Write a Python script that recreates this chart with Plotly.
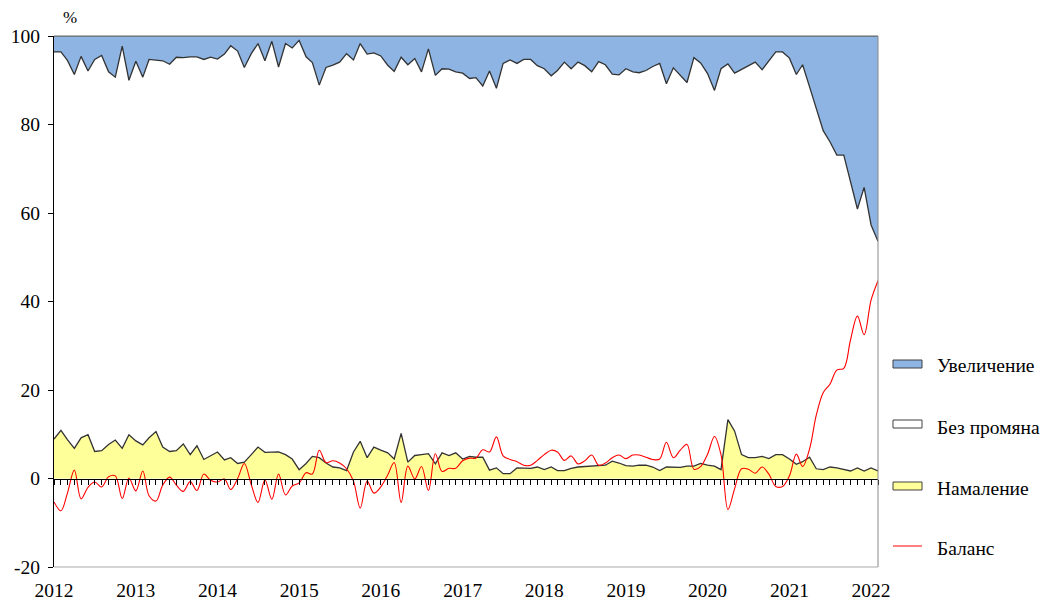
import pandas as pd
import plotly.graph_objects as go

# Monthly survey shares, Jan 2012 - Feb 2022 (122 months), in %
months = pd.date_range("2012-01-01", "2022-02-01", freq="MS").strftime("%Y-%m-%d").tolist()

decrease = [8.9, 10.9, 8.8, 6.8, 9.2, 9.9, 6.1, 6.3, 7.7, 8.7, 6.8, 9.9,
            8.5, 7.6, 9.2, 10.6, 7.1, 6.1, 6.3, 7.8, 5.4, 7.4, 4.3, 5.2,
            6.0, 4.2, 4.7, 3.4, 3.7, 5.4, 7.1, 5.9, 5.9, 6.0, 5.4, 4.4,
            2.0, 3.4, 5.0, 4.7, 3.5, 2.6, 2.4, 1.8, 6.0, 8.4, 4.7, 7.1,
            6.4, 5.8, 4.4, 10.2, 3.7, 5.2, 5.4, 5.6, 3.3, 5.8, 5.2, 5.8,
            4.4, 5.0, 4.8, 4.8, 1.9, 2.4, 1.1, 1.1, 2.4, 2.3, 2.3, 2.6,
            2.0, 2.6, 1.8, 1.8, 2.3, 2.6, 2.7, 2.8, 2.8, 3.0, 3.9, 3.5,
            2.9, 2.8, 3.0, 3.0, 2.6, 1.8, 2.6, 2.5, 2.5, 2.8, 2.8, 3.4,
            3.0, 2.8, 2.0, 13.3, 10.7, 5.4, 4.7, 4.7, 5.0, 4.5, 5.4, 5.4,
            4.4, 3.2, 3.8, 4.8, 2.2, 2.0, 2.6, 2.4, 2.0, 1.7, 2.4, 1.7,
            2.4, 1.7]

unchanged = [87.5, 85.5, 85.7, 84.5, 86.2, 82.2, 88.6, 89.3, 84.2, 82.0, 90.9, 80.1,
             85.8, 83.1, 85.5, 83.9, 87.3, 87.5, 88.9, 87.3, 89.9, 87.9, 90.4, 90.0,
             88.8, 91.7, 93.1, 93.2, 89.2, 90.6, 91.2, 88.5, 92.9, 87.0, 92.9, 92.9,
             97.0, 91.9, 89.0, 84.2, 89.4, 90.8, 91.7, 94.2, 88.6, 89.9, 91.2, 89.1,
             89.1, 87.6, 87.6, 85.0, 89.8, 89.7, 86.5, 91.5, 87.8, 86.8, 87.3, 86.1,
             87.2, 85.4, 85.8, 83.9, 90.2, 85.8, 92.7, 93.5, 91.4, 92.4, 92.4, 90.7,
             90.6, 88.4, 90.4, 92.3, 90.3, 91.5, 90.6, 89.1, 91.4, 90.5, 87.5, 87.7,
             89.7, 89.1, 88.7, 89.2, 90.5, 92.0, 86.6, 90.3, 88.6, 86.7, 92.3, 90.5,
             88.5, 84.9, 90.6, 80.4, 80.9, 87.0, 88.5, 89.4, 87.4, 90.0, 91.0, 91.0,
             90.6, 88.1, 89.7, 83.7, 81.3, 76.6, 73.5, 70.7, 71.1, 65.3, 58.5, 64.1,
             54.9, 51.9]

increase = [3.6, 3.6, 5.5, 8.7, 4.6, 7.9, 5.3, 4.4, 8.1, 9.3, 2.3, 10.0,
            5.7, 9.3, 5.3, 5.5, 5.6, 6.4, 4.8, 4.9, 4.7, 4.7, 5.3, 4.8,
            5.2, 4.1, 2.2, 3.4, 7.1, 4.0, 1.7, 5.6, 1.2, 7.0, 1.7, 2.7,
            1.0, 4.7, 6.0, 11.1, 7.1, 6.6, 5.9, 4.0, 5.4, 1.7, 4.1, 3.8,
            4.5, 6.6, 8.0, 4.8, 6.5, 5.1, 8.1, 2.9, 8.9, 7.4, 7.5, 8.1,
            8.4, 9.6, 9.4, 11.3, 7.9, 11.8, 6.2, 5.4, 6.2, 5.3, 5.3, 6.7,
            7.4, 9.0, 7.8, 5.9, 7.4, 5.9, 6.7, 8.1, 5.8, 6.5, 8.6, 8.8,
            7.4, 8.1, 8.3, 7.8, 6.9, 6.2, 10.8, 7.2, 8.9, 10.5, 4.9, 6.1,
            8.5, 12.3, 7.4, 6.3, 8.4, 7.6, 6.8, 5.9, 7.6, 5.5, 3.6, 3.6,
            5.0, 8.7, 6.5, 11.5, 16.5, 21.4, 23.9, 26.9, 26.9, 33.0, 39.1, 34.2,
            42.7, 46.4]

balance = [-5.3, -7.3, -3.3, 1.9, -4.6, -2.0, -0.8, -1.9, 0.4, 0.6, -4.5, 0.1,
           -2.8, 1.7, -3.9, -5.1, -1.5, 0.3, -1.5, -2.9, -0.7, -2.7, 1.0, -0.4,
           -0.8, -0.1, -2.5, 0.0, 3.4, -1.4, -5.4, -0.3, -4.7, 1.0, -3.7, -1.7,
           -1.0, 1.3, 1.0, 6.4, 3.6, 4.0, 3.5, 2.2, -0.6, -6.7, -0.6, -3.3,
           -1.9, 0.8, 3.6, -5.4, 2.8, -0.1, 2.7, -2.7, 5.6, 1.6, 2.3, 2.3,
           4.0, 4.6, 4.6, 6.5, 6.0, 9.4, 5.1, 4.3, 3.8, 3.0, 3.0, 4.1,
           5.4, 6.4, 6.0, 4.1, 5.1, 3.3, 4.0, 5.3, 3.0, 3.5, 4.7, 5.3,
           4.5, 5.3, 5.3, 4.8, 4.3, 4.4, 8.2, 4.7, 6.4, 7.7, 2.1, 2.7,
           5.5, 9.5, 5.4, -7.0, -2.3, 2.2, 2.1, 1.2, 2.6, 1.0, -1.8, -1.8,
           0.6, 5.5, 2.7, 6.7, 14.3, 19.4, 21.3, 24.5, 24.9, 31.3, 36.7, 32.5,
           40.3, 44.7]

series_names = ["Увеличение", "Без промяна", "Намаление", "Баланс"]
year_ticks = ["%d-01-01" % y for y in range(2012, 2023)]
year_labels = [str(y) for y in range(2012, 2023)]
y_ticks = [-20, 0, 20, 40, 60, 80, 100]
y_labels = ["-20", "0", "20", "40", "60", "80", "100"]
x_range = ["2012-01-01", "2022-02-01"]

FONT = "Liberation Serif"
FS = 19.5
EDGE = "#333333"
BLUE = "#8DB4E2"
YELLOW = "#FFFF99"

# Figure geometry (the page adds an 8px body margin around the figure)
W, H = 1040, 592
ML, MR, MT, MB = 46, 170, 28, 33
PW, PH = W - ML - MR, H - MT - MB


def px_x(px):  # page pixel -> paper x
    return (px - 8 - ML) / PW


def px_y(py):  # page pixel -> paper y
    return (H - MB - (py - 8)) / PH


fig = go.Figure()
fig.add_trace(go.Scatter(x=months, y=decrease, name=series_names[2], stackgroup="s",
                         mode="lines", line=dict(color=EDGE, width=1.3),
                         fillcolor=YELLOW, showlegend=False))
fig.add_trace(go.Scatter(x=months, y=unchanged, name=series_names[1], stackgroup="s",
                         mode="lines", line=dict(color=EDGE, width=1.3),
                         fillcolor="#FFFFFF", showlegend=False))
fig.add_trace(go.Scatter(x=months, y=increase, name=series_names[0], stackgroup="s",
                         mode="lines", line=dict(color="#666666", width=1.2),
                         fillcolor=BLUE, showlegend=False))
fig.add_trace(go.Scatter(x=months, y=balance, name=series_names[3], mode="lines",
                         line=dict(color="#FF0000", width=1.1, shape="spline"),
                         showlegend=False))
# helper trace so the month-tick axis at zero is rendered
fig.add_trace(go.Scatter(x=[months[0]], y=[None], xaxis="x2", showlegend=False,
                         hoverinfo="skip", mode="lines"))

shapes = [
    dict(type="line", xref="paper", yref="paper", x0=0, x1=1, y0=1, y1=1,
         line=dict(color="#666666", width=1)),
    dict(type="line", xref="paper", yref="paper", x0=1, x1=1, y0=0, y1=1,
         line=dict(color="#888888", width=1)),
    dict(type="line", xref="paper", yref="paper", x0=0, x1=1, y0=0, y1=0,
         line=dict(color="#AAAAAA", width=1)),
]
annotations = [dict(text="%", xref="paper", yref="paper", x=px_x(70), y=px_y(17),
                    xanchor="center", yanchor="middle", showarrow=False,
                    font=dict(family=FONT, size=17, color="black"))]

# legend (boxes + labels) on the right
legend_fills = [BLUE, "#FFFFFF", YELLOW]
box_centers = [364, 424, 486]
text_centers = [365, 427, 488, 548]
for fill, cy in zip(legend_fills, box_centers):
    shapes.append(dict(type="rect", xref="paper", yref="paper",
                       x0=px_x(893), x1=px_x(922), y0=px_y(cy + 4), y1=px_y(cy - 4),
                       fillcolor=fill, line=dict(color="#404040", width=1)))
shapes.append(dict(type="line", xref="paper", yref="paper",
                   x0=px_x(893), x1=px_x(922), y0=px_y(546), y1=px_y(546),
                   line=dict(color="#FF0000", width=1)))
for name, cy in zip(series_names, text_centers):
    annotations.append(dict(text=name, xref="paper", yref="paper", x=px_x(935),
                            y=px_y(cy), xanchor="left", yanchor="middle",
                            showarrow=False, font=dict(family=FONT, size=FS, color="black")))

fig.update_layout(
    width=W, height=H,
    margin=dict(l=ML, r=MR, t=MT, b=MB, autoexpand=False),
    paper_bgcolor="white", plot_bgcolor="white",
    font=dict(family=FONT, size=FS, color="black"),
    showlegend=False,
    xaxis=dict(type="date", range=x_range, tickvals=year_ticks, ticktext=year_labels,
               ticks="outside", ticklen=6, tickcolor="rgba(0,0,0,0)",
               showline=False, showgrid=False, zeroline=False, automargin=False,
               tickfont=dict(family=FONT, size=FS, color="black")),
    xaxis2=dict(type="date", range=x_range, overlaying="x", anchor="free",
                position=20 / 120, dtick="M1", tick0="2012-01-01",
                ticks="outside", ticklen=5, tickwidth=1, tickcolor="black",
                showticklabels=False, showline=True, linecolor="black", linewidth=1,
                showgrid=False, zeroline=False, automargin=False),
    yaxis=dict(range=[-20, 100], tickvals=y_ticks, ticktext=y_labels,
               ticks="outside", ticklen=5, automargin=False, ticklabelstandoff=4,
               tickcolor="black", showline=True, linecolor="black", linewidth=1,
               showgrid=False, zeroline=False,
               tickfont=dict(family=FONT, size=FS, color="black")),
    shapes=shapes,
    annotations=annotations,
)

fig.write_html("out.html")
